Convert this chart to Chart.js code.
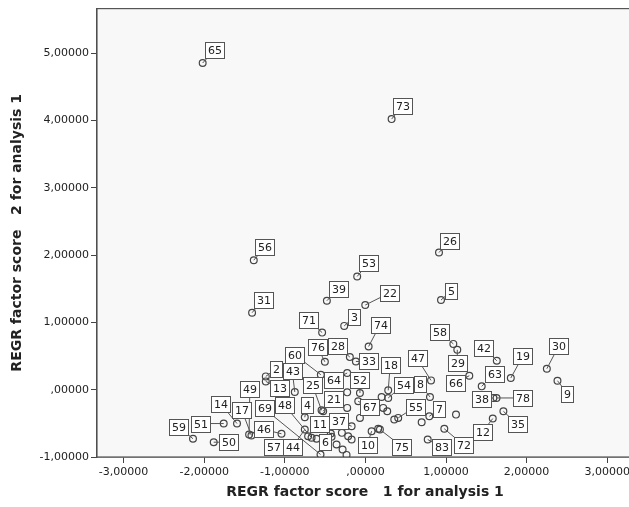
<!DOCTYPE html>
<html lang="en">
<head>
    <meta charset="UTF-8">
    <title>REGR factor scores</title>
    <script src="https://cdn.jsdelivr.net/npm/chart.js"></script>
    <style>
        html, body { margin: 0; padding: 0; background: #fff; overflow: hidden; }
        .chart_div { width: 640px; height: 507px; }
    </style>
</head>
<body>
    <div class="chart_div">
        <canvas id="chart1"></canvas>
    </div>

    <script>
        // case numbers and their two factor scores
        const caseIds = [1, 2, 3, 4, 5, 6, 7, 8, 9, 10,
            11, 12, 13, 14, 15, 16, 17, 18, 19, 20,
            21, 22, 23, 24, 25, 26, 27, 28, 29, 30,
            31, 32, 33, 34, 35, 36, 37, 38, 39, 40,
            41, 42, 43, 44, 45, 46, 47, 48, 49, 50,
            51, 52, 53, 54, 55, 56, 57, 58, 59, 60,
            61, 62, 63, 64, 65, 66, 67, 68, 69, 70,
            71, 72, 73, 74, 75, 76, 77, 78, 83];
        const factor1 = [0.358, -1.236, -0.263, -0.752, 0.938, -0.420, 0.793, 0.801, 2.383, 0.077,
            -0.711, 1.580, -1.236, -1.593, 0.159, 1.124, -1.414, 0.283, 1.804, 0.698,
            -0.524, -0.002, -0.226, 0.201, -0.544, 0.913, -0.226, -0.193, 1.140, 2.251,
            -1.406, 0.221, -0.118, 0.271, 1.712, -0.068, -0.171, 1.588, -0.478, -0.292,
            -0.214, 1.630, -0.876, -0.752, -0.171, -1.041, 0.814, -0.668, -1.443, -1.882,
            -1.758, -0.068, -0.102, 0.283, 0.407, -1.385, -1.062, 1.091, -2.139, -0.553,
            -0.358, -0.283, 1.443, -0.226, -2.019, 1.289, -0.089, -0.234, -0.557, -0.606,
            -0.537, 0.979, 0.325, 0.040, 0.180, -0.503, -0.429, 1.627, 0.773];
        const factor2 = [-0.444, 0.197, 0.947, -0.410, 1.331, -0.700, -0.395, -0.108, 0.133, -0.617,
            -0.691, -0.429, 0.123, -0.503, -0.581, -0.370, -0.680, -0.010, 0.173, -0.484,
            -0.321, 1.257, -0.040, -0.108, -0.306, 2.037, -0.271, 0.484, 0.592, 0.311,
            1.143, -0.271, 0.419, -0.321, -0.321, -0.419, -0.543, -0.123, 1.321, -0.641,
            -0.691, 0.429, -0.034, -0.592, -0.740, -0.655, 0.138, -0.714, -0.666, -0.780,
            -0.503, -0.049, 1.682, -0.123, -0.419, 1.923, -0.917, 0.680, -0.729, 0.222,
            -0.814, -0.888, 0.049, 0.247, 4.852, 0.207, -0.173, -0.969, -0.962, -0.729,
            0.848, -0.581, 4.019, 0.641, -0.592, 0.414, -0.651, -0.123, -0.740];

        const xTicks = [-3, -2, -1, 0, 1, 2, 3];
        const yTicks = [-1, 0, 1, 2, 3, 4, 5];

        // which cases get a label box, and where the box sits from its point (px)
        const labelOffsets = {
            2: [10, -7.5], 3: [10, -9], 4: [2, -12], 5: [10, -9], 6: [-7, 5],
            7: [10, -7], 8: [-10, -13], 9: [10, 13], 10: [-4.5, 14], 11: [11, -12.5],
            12: [-10, 13], 13: [14, 7], 14: [-16.5, -20], 17: [-9.5, -25], 18: [2, -25],
            19: [12, -22], 21: [10, -12.5], 22: [24, -12], 25: [-9, -25], 26: [11, -12],
            28: [-12.5, -11], 29: [0, 13], 30: [12, -23], 31: [11, -13], 33: [13, 0],
            35: [14, 13], 37: [-13, -5], 38: [-12, 1], 39: [12, -12], 42: [-13, -13],
            43: [-2.5, -20.5], 44: [-12, 17], 46: [-17.5, -4.3], 47: [-14, -22], 48: [-27, -32.5],
            49: [0.7, -45.5], 50: [15, 0], 51: [-23.5, 0], 52: [0, -12.5], 53: [11, -13],
            54: [15, -13], 55: [17, -11], 56: [11, -13], 57: [-6.7, -4.5], 58: [-14, -12],
            59: [-14, -12], 60: [-26, -20], 63: [12.5, -12.5], 64: [-14, 7], 65: [12, -13],
            66: [-14, 7], 67: [11, 6], 69: [-56.5, -46], 71: [-14, -13], 72: [19, 16],
            73: [11, -13], 74: [11.5, -22], 75: [22, 17], 76: [-7.5, -15], 78: [26, 0],
            83: [14, 8]
        };

        function spssNumber(v) {
            let s = v.toFixed(5).replace('.', ',');
            if (s.startsWith('0,')) s = s.slice(1);
            return s;
        }

        const plotBackground = {
            id: 'plotBackground',
            beforeDatasetsDraw(chart) {
                const { ctx, chartArea: a } = chart;
                ctx.save();
                ctx.fillStyle = '#f8f8f8';
                ctx.fillRect(a.left, a.top, a.right - a.left, a.bottom - a.top);
                ctx.strokeStyle = '#555';
                ctx.lineWidth = 1.2;
                ctx.strokeRect(a.left, a.top, a.right - a.left, a.bottom - a.top);
                ctx.restore();
            }
        };

        const caseLabels = {
            id: 'caseLabels',
            afterDatasetsDraw(chart) {
                const ctx = chart.ctx;
                const pts = chart.getDatasetMeta(0).data;
                ctx.save();
                ctx.font = '11px "DejaVu Sans"';
                ctx.textAlign = 'center';
                ctx.textBaseline = 'middle';

                const boxes = [];
                pts.forEach((p, i) => {
                    const off = labelOffsets[caseIds[i]];
                    if (!off) return;
                    const text = String(caseIds[i]);
                    const w = ctx.measureText(text).width + 5;
                    boxes.push({ x: p.x + off[0], y: p.y + off[1], w: w, h: 16, text: text, px: p.x, py: p.y });
                });

                // leader lines
                ctx.strokeStyle = '#555';
                ctx.lineWidth = 1;
                boxes.forEach(b => {
                    ctx.beginPath();
                    ctx.moveTo(b.px, b.py);
                    ctx.lineTo(b.x, b.y);
                    ctx.stroke();
                });

                // label boxes
                boxes.forEach(b => {
                    const l = Math.round(b.x - b.w / 2) + 0.5;
                    const t = Math.round(b.y - b.h / 2) + 0.5;
                    ctx.fillStyle = '#fff';
                    ctx.fillRect(l, t, b.w, b.h);
                    ctx.strokeStyle = '#555';
                    ctx.strokeRect(l, t, b.w, b.h);
                    ctx.fillStyle = '#222';
                    ctx.fillText(b.text, l + b.w / 2, t + b.h / 2 + 0.5);
                });
                ctx.restore();
            }
        };

        new Chart(document.getElementById('chart1'), {
            type: 'scatter',
            data: {
                datasets: [{
                    label: 'Cases',
                    data: factor1.map((x, i) => ({ x: x, y: factor2[i] })),
                    pointStyle: 'circle',
                    pointRadius: 3.4,
                    borderColor: '#444',
                    borderWidth: 1.2,
                    backgroundColor: 'rgba(255,255,255,0)'
                }]
            },
            options: {
                responsive: true,
                maintainAspectRatio: false,
                animation: false,
                layout: { padding: { top: 7, right: 7, left: 0, bottom: 0 } },
                plugins: {
                    legend: { display: false },
                    tooltip: { enabled: false }
                },
                scales: {
                    x: {
                        type: 'linear',
                        min: -3.33,
                        max: 3.32,
                        afterBuildTicks: scale => { scale.ticks = xTicks.map(v => ({ value: v })); },
                        afterFit: scale => { scale.height = 50; },
                        ticks: {
                            callback: v => spssNumber(v),
                            font: { family: 'DejaVu Sans', size: 11 },
                            color: '#222',
                            padding: 3,
                            maxRotation: 0
                        },
                        grid: { drawOnChartArea: false, tickLength: 6, color: '#444' },
                        border: { color: '#444', width: 1.5 },
                        title: {
                            display: true,
                            text: 'REGR factor score   1 for analysis 1',
                            font: { family: 'DejaVu Sans', size: 14, weight: 'bold' },
                            color: '#222',
                            padding: { top: 0, bottom: 6 }
                        }
                    },
                    y: {
                        type: 'linear',
                        min: -1,
                        max: 5.66,
                        afterBuildTicks: scale => { scale.ticks = yTicks.map(v => ({ value: v })); },
                        afterFit: scale => { scale.width = 97; },
                        ticks: {
                            callback: v => spssNumber(v),
                            font: { family: 'DejaVu Sans', size: 11 },
                            color: '#222',
                            padding: 2
                        },
                        grid: { drawOnChartArea: false, tickLength: 6, color: '#444' },
                        border: { color: '#444', width: 1.5 },
                        title: {
                            display: true,
                            text: 'REGR factor score   2 for analysis 1',
                            font: { family: 'DejaVu Sans', size: 14, weight: 'bold' },
                            color: '#222',
                            padding: { top: 9, bottom: 0 }
                        }
                    }
                }
            },
            plugins: [plotBackground, caseLabels]
        });
    </script>
</body>
</html>
